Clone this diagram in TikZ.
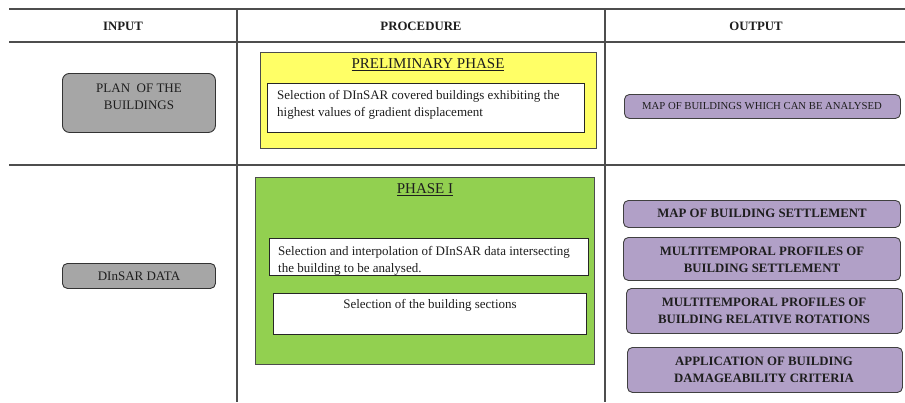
\documentclass[tikz,border=0pt]{standalone}
\usepackage{fontspec}
\setmainfont{Liberation Serif}
\definecolor{rulegray}{HTML}{4D4D4D}
\definecolor{inbox}{HTML}{A6A6A6}
\definecolor{prelim}{HTML}{FFFF66}
\definecolor{phaseone}{HTML}{92D050}
\definecolor{outbox}{HTML}{B1A0C7}
\definecolor{ink}{HTML}{1E1E1E}
\tikzset{
  gridline/.style={draw=rulegray, line width=1.2pt},
  inputbox/.style={draw=black!80, fill=inbox, rounded corners=7pt, line width=0.9pt,
    anchor=north west, inner sep=0pt},
  outputbox/.style={draw=black!75, fill=outbox, rounded corners=5pt, line width=0.9pt,
    anchor=north west, inner sep=0pt},
  phasebox/.style={draw=black!70, line width=0.8pt, anchor=north west, inner sep=0pt},
  stepbox/.style={draw=black!85, fill=white, line width=0.9pt, anchor=north west, inner sep=0pt},
  head/.style={font=\fontsize{12.8}{15}\selectfont\bfseries, text=ink},
  body/.style={font=\fontsize{13}{17}\selectfont, text=ink},
  phasetitle/.style={font=\fontsize{15}{18}\selectfont, text=ink},
  outsmall/.style={font=\fontsize{10.7}{13}\selectfont, text=ink},
  outbold/.style={font=\fontsize{12.8}{17}\selectfont\bfseries, text=ink, align=center},
}
\begin{document}
\begin{tikzpicture}[x=1pt,y=-1pt]
\useasboundingbox (0,0) rectangle (905,402);

% table frame
\coordinate (tl) at (9,9);   \coordinate (tr) at (905,9);
\coordinate (hl) at (9,42);  \coordinate (hr) at (905,42);
\coordinate (ml) at (9,165); \coordinate (mr) at (905,165);
\coordinate (c1t) at (237,9); \coordinate (c1b) at (237,402);
\coordinate (c2t) at (605,9); \coordinate (c2b) at (605,402);
\draw[gridline] (tl) -- (tr);
\draw[gridline] (hl) -- (hr);
\draw[gridline] (ml) -- (mr);
\draw[gridline] (c1t) -- (c1b);
\draw[gridline] (c2t) -- (c2b);

% column headings
\node[head] (hin)   at (123,26) {INPUT};
\node[head] (hproc) at (421,26) {PROCEDURE};
\node[head] (hout)  at (756,26) {OUTPUT};

% ---- preliminary phase row ----
\node[inputbox, minimum width=153pt, minimum height=59pt] (plan) at (62,73) {};
\node[body, align=center] (plantxt) at (139,97) {PLAN\ \ OF THE\\BUILDINGS};

\node[phasebox, fill=prelim, minimum width=336pt, minimum height=96pt] (prelim) at (260,52) {};
\node[phasetitle] (prelimtitle) at (428,65) {\underline{PRELIMINARY PHASE}};
\node[stepbox, minimum width=317pt, minimum height=49pt] (covered) at (267,83) {};
\node[body, align=left, anchor=west, inner sep=0pt] (coveredtxt) at (277,105)
  {Selection of DInSAR covered buildings exhibiting the\\highest values of gradient displacement};

\node[outputbox, minimum width=276pt, minimum height=24pt] (mapan) at (624,94) {};
\node[outsmall] (mapantxt) at (762,106) {MAP OF BUILDINGS WHICH CAN BE ANALYSED};

% ---- phase I row ----
\node[inputbox, rounded corners=5pt, minimum width=153pt, minimum height=25pt] (dinsar) at (62,263) {};
\node[body] (dinsartxt) at (139,276) {DInSAR DATA};

\node[phasebox, fill=phaseone, minimum width=339pt, minimum height=187pt] (phase1) at (255,177) {};
\node[phasetitle] (phase1title) at (425,190) {\underline{PHASE I}};

% the second line of this step sits on the frame, so its descenders are cut off
\node[stepbox, minimum width=319pt, minimum height=37pt] (interp) at (269,238) {};
\begin{scope}
  \clip (269.5,238.5) rectangle (587.5,274.3);
  \node[body, align=left, anchor=north west, inner sep=0pt] (interptxt) at (278,246)
    {Selection and interpolation of DInSAR data intersecting\\the building to be analysed.};
\end{scope}
\draw[draw=black!85, line width=0.9pt] (interp.south west) -- (interp.south east);

\node[stepbox, minimum width=313pt, minimum height=41pt] (sections) at (273,293) {};
\node[body] (sectionstxt) at (430,305) {Selection of the building sections};

\node[outputbox, minimum width=277pt, minimum height=27pt] (settle) at (623,200) {};
\node[outbold] (settletxt) at (762,213.5) {MAP OF BUILDING SETTLEMENT};

\node[outputbox, minimum width=277pt, minimum height=43pt] (profset) at (623,237) {};
\node[outbold] (profsettxt) at (762,260) {MULTITEMPORAL PROFILES OF\\BUILDING SETTLEMENT};

\node[outputbox, minimum width=276pt, minimum height=45pt] (profrot) at (626,288) {};
\node[outbold] (profrottxt) at (764,310.5) {MULTITEMPORAL PROFILES OF\\BUILDING RELATIVE ROTATIONS};

\node[outputbox, minimum width=275pt, minimum height=45pt] (damage) at (627,347) {};
\node[outbold] (damagetxt) at (764,369.5) {APPLICATION OF BUILDING\\DAMAGEABILITY CRITERIA};
\end{tikzpicture}
\end{document}
